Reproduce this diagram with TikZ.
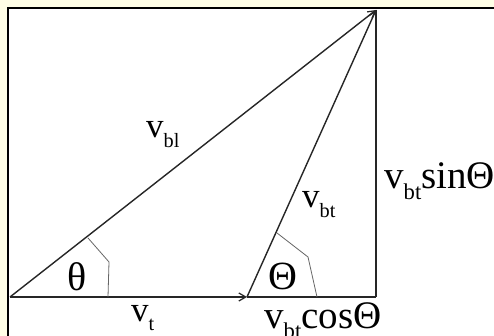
\documentclass[tikz,border=0pt]{standalone}
\usepackage{fontspec}
\setmainfont{Liberation Serif}
\usetikzlibrary{arrows.meta}
\newcommand{\sbs}[1]{\raisebox{-0.26em}{\fontsize{0.58em}{0.58em}\selectfont #1}}
\begin{document}
\begin{tikzpicture}[x=1pt,y=-1pt,
  vec/.style={line width=1.4pt,draw=black!85,-{Straight Barb[length=7pt,width=8pt,line width=1.2pt]}},
  seg/.style={line width=1.4pt,draw=black!85},
  anglemark/.style={line width=0.8pt,draw=black!60},
  lbl/.style={inner sep=0pt,font=\fontsize{35}{35}\selectfont},
  blbl/.style={inner sep=0pt,font=\fontsize{39}{39}\selectfont},
  glbl/.style={inner sep=0pt,font=\fontsize{40}{40}\selectfont}]
\useasboundingbox (0,0) rectangle (494,336);
\fill[yellow!10] (0,0) rectangle (494,336);
\fill[white] (8,8) rectangle (494,336);
\draw[line width=2.2pt,black] (8,336) -- (8,8) -- (494,8);
\coordinate (O) at (10,297);
\coordinate (A) at (247,297);
\coordinate (P) at (376,10);
\coordinate (F) at (376,297);
\draw[vec] (O) -- (A);
\draw[seg] (A) -- (F);
\draw[seg] (F) -- (P);
\draw[vec] (O) -- (P);
\draw[vec] (A) -- (P);
\draw[anglemark] (88,238) -- (109,262) -- (108,297);
\draw[anglemark] (277,233) -- (308,257) -- (317,297);
\node[lbl,anchor=base west] (lbl) at (146,138) {v\sbs{bl}};
\node[lbl,anchor=base west] (lbt) at (302,208) {v\sbs{bt}};
\node[blbl,anchor=base west] (lsin) at (384,189) {v\sbs{bt}sinΘ};
\node[lbl,anchor=base west] (lt) at (131,321) {v\sbs{t}};
\node[blbl,anchor=base west] (lcos) at (264,328) {v\sbs{bt}cosΘ};
\node[glbl,anchor=base west] (th) at (67,290) {θ};
\node[glbl,anchor=base west] (Th) at (268,289) {Θ};
\end{tikzpicture}
\end{document}
